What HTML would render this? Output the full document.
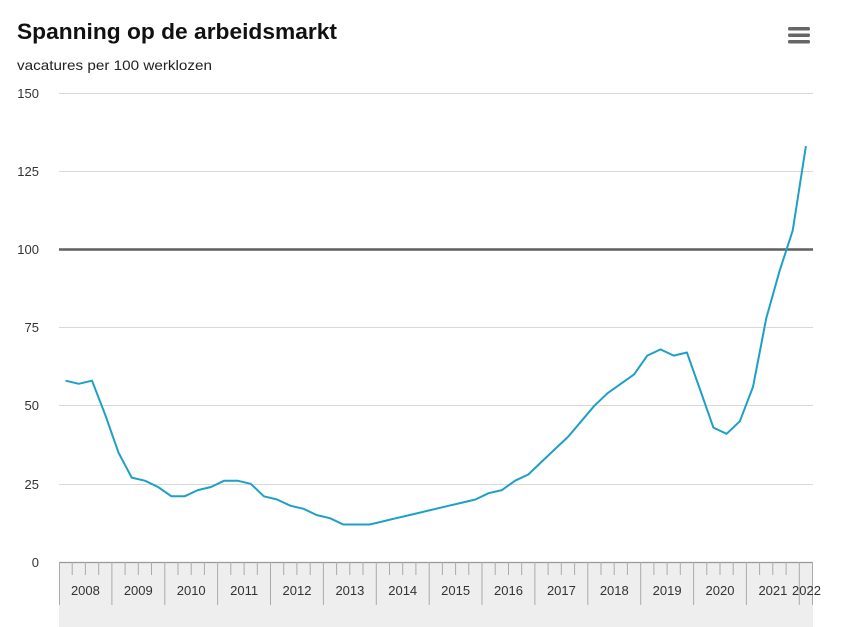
<!DOCTYPE html>
<html><head><meta charset="utf-8"><style>
html,body{margin:0;padding:0;background:#fff;}
svg{display:block;}
text{font-family:"Liberation Sans","DejaVu Sans",sans-serif;}
</style></head><body>
<svg width="858" height="627" viewBox="0 0 858 627" xmlns="http://www.w3.org/2000/svg">
<rect width="858" height="627" fill="#fff"/>
<text x="17" y="39" font-size="22" font-weight="bold" fill="#111" textLength="320" lengthAdjust="spacingAndGlyphs">Spanning op de arbeidsmarkt</text>
<text x="17" y="70" font-size="14" fill="#222" textLength="195" lengthAdjust="spacingAndGlyphs">vacatures per 100 werklozen</text>
<g fill="#666">
<rect x="788" y="27" width="22" height="3.5" rx="1.5"/>
<rect x="788" y="33.5" width="22" height="3.5" rx="1.5"/>
<rect x="788" y="40" width="22" height="3.5" rx="1.5"/>
</g>
<g stroke="#d9d9d9" stroke-width="1">
<line x1="59" y1="93.5" x2="813" y2="93.5"/>
<line x1="59" y1="171.5" x2="813" y2="171.5"/>
<line x1="59" y1="327.5" x2="813" y2="327.5"/>
<line x1="59" y1="405.5" x2="813" y2="405.5"/>
<line x1="59" y1="484.5" x2="813" y2="484.5"/>
</g>
<line x1="59" y1="249.5" x2="813" y2="249.5" stroke="#5f5f5f" stroke-width="2.5"/>
<g font-size="13" fill="#333" text-anchor="end">
<text x="39" y="98">150</text>
<text x="39" y="176">125</text>
<text x="39" y="254">100</text>
<text x="39" y="332">75</text>
<text x="39" y="410">50</text>
<text x="39" y="489">25</text>
<text x="39" y="567">0</text>
</g>
<rect x="59" y="562" width="754" height="65" fill="#eeeeee"/>
<line x1="59" y1="562.5" x2="813" y2="562.5" stroke="#999" stroke-width="1.2"/>
<g stroke="#aaa" stroke-width="1">
<line x1="59.5" y1="562" x2="59.5" y2="605"/>
<line x1="111.9" y1="562" x2="111.9" y2="605"/>
<line x1="164.8" y1="562" x2="164.8" y2="605"/>
<line x1="217.6" y1="562" x2="217.6" y2="605"/>
<line x1="270.5" y1="562" x2="270.5" y2="605"/>
<line x1="323.4" y1="562" x2="323.4" y2="605"/>
<line x1="376.3" y1="562" x2="376.3" y2="605"/>
<line x1="429.2" y1="562" x2="429.2" y2="605"/>
<line x1="482.0" y1="562" x2="482.0" y2="605"/>
<line x1="534.9" y1="562" x2="534.9" y2="605"/>
<line x1="587.8" y1="562" x2="587.8" y2="605"/>
<line x1="640.7" y1="562" x2="640.7" y2="605"/>
<line x1="693.6" y1="562" x2="693.6" y2="605"/>
<line x1="746.4" y1="562" x2="746.4" y2="605"/>
<line x1="799.3" y1="562" x2="799.3" y2="605"/>
<line x1="812.5" y1="562" x2="812.5" y2="605"/>
</g>
<g stroke="#aaa" stroke-width="1" id="ticks">
<path d="M72.2 562V575M85.4 562V575M98.7 562V575
M125.1 562V575M138.3 562V575M151.5 562V575
M178.0 562V575M191.2 562V575M204.4 562V575
M230.8 562V575M244.1 562V575M257.3 562V575
M283.7 562V575M296.9 562V575M310.2 562V575
M336.6 562V575M349.8 562V575M363.0 562V575
M389.5 562V575M402.7 562V575M415.9 562V575
M442.4 562V575M455.6 562V575M468.8 562V575
M495.2 562V575M508.5 562V575M521.7 562V575
M548.1 562V575M561.3 562V575M574.6 562V575
M601.0 562V575M614.2 562V575M627.4 562V575
M653.9 562V575M667.1 562V575M680.3 562V575
M706.8 562V575M720.0 562V575M733.2 562V575
M759.6 562V575M772.8 562V575M786.1 562V575"/>
</g>
<g font-size="13" fill="#333" text-anchor="middle">
<text x="85.4" y="595">2008</text>
<text x="138.3" y="595">2009</text>
<text x="191.2" y="595">2010</text>
<text x="244.1" y="595">2011</text>
<text x="297.0" y="595">2012</text>
<text x="349.9" y="595">2013</text>
<text x="402.7" y="595">2014</text>
<text x="455.6" y="595">2015</text>
<text x="508.5" y="595">2016</text>
<text x="561.4" y="595">2017</text>
<text x="614.3" y="595">2018</text>
<text x="667.1" y="595">2019</text>
<text x="720.0" y="595">2020</text>
<text x="772.9" y="595">2021</text>
<text x="806.5" y="595">2022</text>
</g>
<polyline fill="none" stroke="#1ea0c6" stroke-width="2" stroke-linejoin="round" points="
65.6,380.7 78.8,383.8 92.0,380.7 105.3,415.0 118.5,452.6 131.7,477.6 144.9,480.7 158.1,487.0
171.4,496.3 184.6,496.3 197.8,490.1 211.0,487.0 224.2,480.7 237.5,480.7 250.7,483.8 263.9,496.3
277.1,499.5 290.3,505.7 303.6,508.8 316.8,515.1 330.0,518.2 343.2,524.5 356.4,524.5 369.7,524.5
382.9,521.4 396.1,518.2 409.3,515.1 422.5,512.0 435.8,508.8 449.0,505.7 462.2,502.6 475.4,499.5
488.6,493.2 501.9,490.1 515.1,480.7 528.3,474.5 541.5,461.9 554.7,449.4 568.0,436.9 581.2,421.3
594.4,405.7 607.6,393.2 620.8,383.8 634.1,374.4 647.3,355.6 660.5,349.4 673.7,355.6 686.9,352.5
700.2,390.0 713.4,427.6 726.6,433.8 739.8,421.3 753.0,386.9 766.3,318.1 779.5,271.2 792.7,230.6 805.9,146.1"/>
</svg>
</body></html>
